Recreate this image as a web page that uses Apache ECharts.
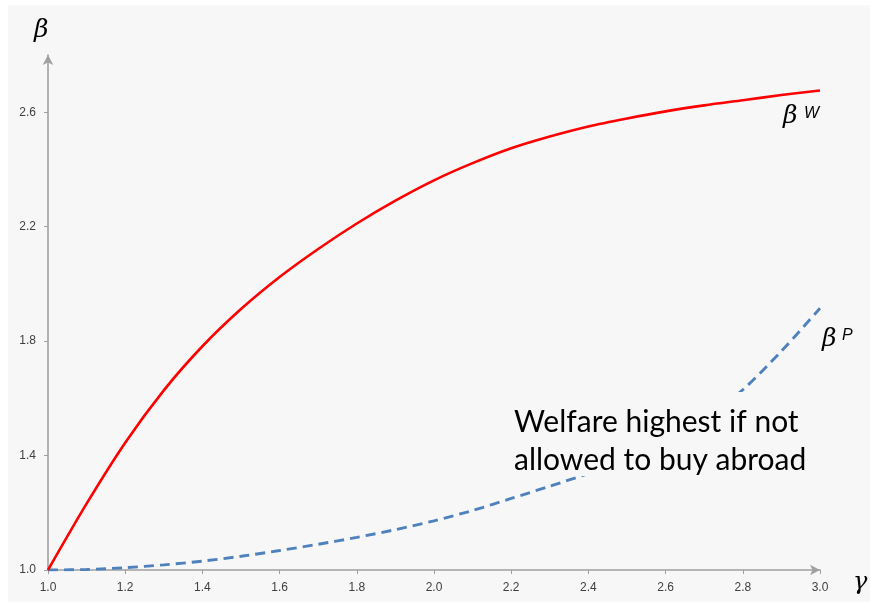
<!DOCTYPE html>
<html><head><meta charset="utf-8">
<script src="https://cdn.jsdelivr.net/npm/echarts@6/dist/echarts.min.js"></script>
<style>html,body{margin:0;padding:0;background:#fff}#c{width:870px;height:604px}</style>
</head><body><div id="c"></div>
<script>
var gammaVals = [1.0,1.1,1.2,1.3,1.4,1.5,1.6,1.7,1.8,1.9,2.0,2.1,2.2,2.3,2.4,2.5,2.6,2.7,2.8,2.9,3.0];
var betaW = [1.0,1.232,1.445,1.628,1.782,1.912,2.024,2.122,2.211,2.291,2.362,2.422,2.474,2.515,2.550,2.578,2.603,2.624,2.642,2.660,2.676];
var betaP = [1.0,1.002,1.008,1.018,1.031,1.048,1.068,1.090,1.114,1.141,1.172,1.208,1.250,1.293,1.337,1.385,1.445,1.525,1.630,1.765,1.915];
var xTicks = [1.0,1.2,1.4,1.6,1.8,2.0,2.2,2.4,2.6,2.8,3.0];
var yTicks = [1.0,1.4,1.8,2.2,2.6];
var noteLines = ['Welfare highest if not', 'allowed to buy abroad'];

function pairs(xs, ys){ return xs.map(function(x,i){ return [x, ys[i]]; }); }

var chart = echarts.init(document.getElementById('c'), null, {renderer:'canvas'});
var axisCol = '#a0a0a0';
var labelStyle = {color:'#404040', fontSize:12, fontFamily:'Liberation Sans'};
chart.setOption({
  animation:false,
  backgroundColor:'#ffffff',
  grid:{left:48, right:50, top:55, bottom:34},
  xAxis:{type:'value', min:1.0, max:3.0, interval:0.2,
    axisLine:{show:true, symbol:['none','arrow'], symbolSize:[8,10], lineStyle:{color:axisCol, width:1.6}},
    axisTick:{show:true, inside:false, length:4, customValues:xTicks, lineStyle:{color:axisCol}},
    axisLabel:Object.assign({margin:12, customValues:xTicks, formatter:function(v){return v.toFixed(1);}}, labelStyle),
    splitLine:{show:false}},
  yAxis:{type:'value', min:1.0, max:2.8, interval:0.4,
    axisLine:{show:true, symbol:['none','arrow'], symbolSize:[8,10], lineStyle:{color:axisCol, width:1.6}},
    axisTick:{show:true, inside:false, length:4, customValues:yTicks, lineStyle:{color:axisCol}},
    axisLabel:Object.assign({margin:12, customValues:yTicks, formatter:function(v){return v.toFixed(1);}}, labelStyle),
    splitLine:{show:false}},
  series:[
    {type:'line', data:pairs(gammaVals, betaW), smooth:0.3, showSymbol:false, symbol:'none',
     lineStyle:{color:'#ff0000', width:2.6}, z:3},
    {type:'line', data:pairs(gammaVals, betaP), smooth:0.3, showSymbol:false, symbol:'none',
     lineStyle:{color:'#4f81bd', width:2.9, type:[10,6]}, z:2}
  ],
  graphic:[
    {type:'rect', z:-10, silent:true, shape:{x:8, y:5, width:862, height:597}, style:{fill:'#f7f7f7'}},
    {type:'rect', z:100, silent:true, shape:{x:505, y:392, width:310, height:84}, style:{fill:'#f7f7f7'}},
    {type:'text', z:101, left:514, top:403, style:{text:noteLines.join('\n'), fill:'#000', fontSize:30, lineHeight:38, fontFamily:'Lato'}},
    {type:'text', z:101, left:34, top:18, style:{text:'β', fill:'#000', fontSize:25, fontStyle:'italic', fontFamily:'DejaVu Serif'}},
    {type:'text', z:101, left:853, top:571, style:{text:'γ', fill:'#000', fontSize:24, fontStyle:'italic', fontFamily:'DejaVu Serif'}},
    {type:'text', z:101, left:783, top:104, style:{text:'β', fill:'#000', fontSize:25, fontStyle:'italic', fontFamily:'DejaVu Serif'}},
    {type:'text', z:101, left:804, top:106, style:{text:'W', fill:'#000', fontSize:16, fontStyle:'italic', fontFamily:'Liberation Sans'}},
    {type:'text', z:101, left:822, top:327, style:{text:'β', fill:'#000', fontSize:25, fontStyle:'italic', fontFamily:'DejaVu Serif'}},
    {type:'text', z:101, left:842, top:328, style:{text:'P', fill:'#000', fontSize:16, fontStyle:'italic', fontFamily:'Liberation Sans'}}
  ]
});
</script></body></html>
